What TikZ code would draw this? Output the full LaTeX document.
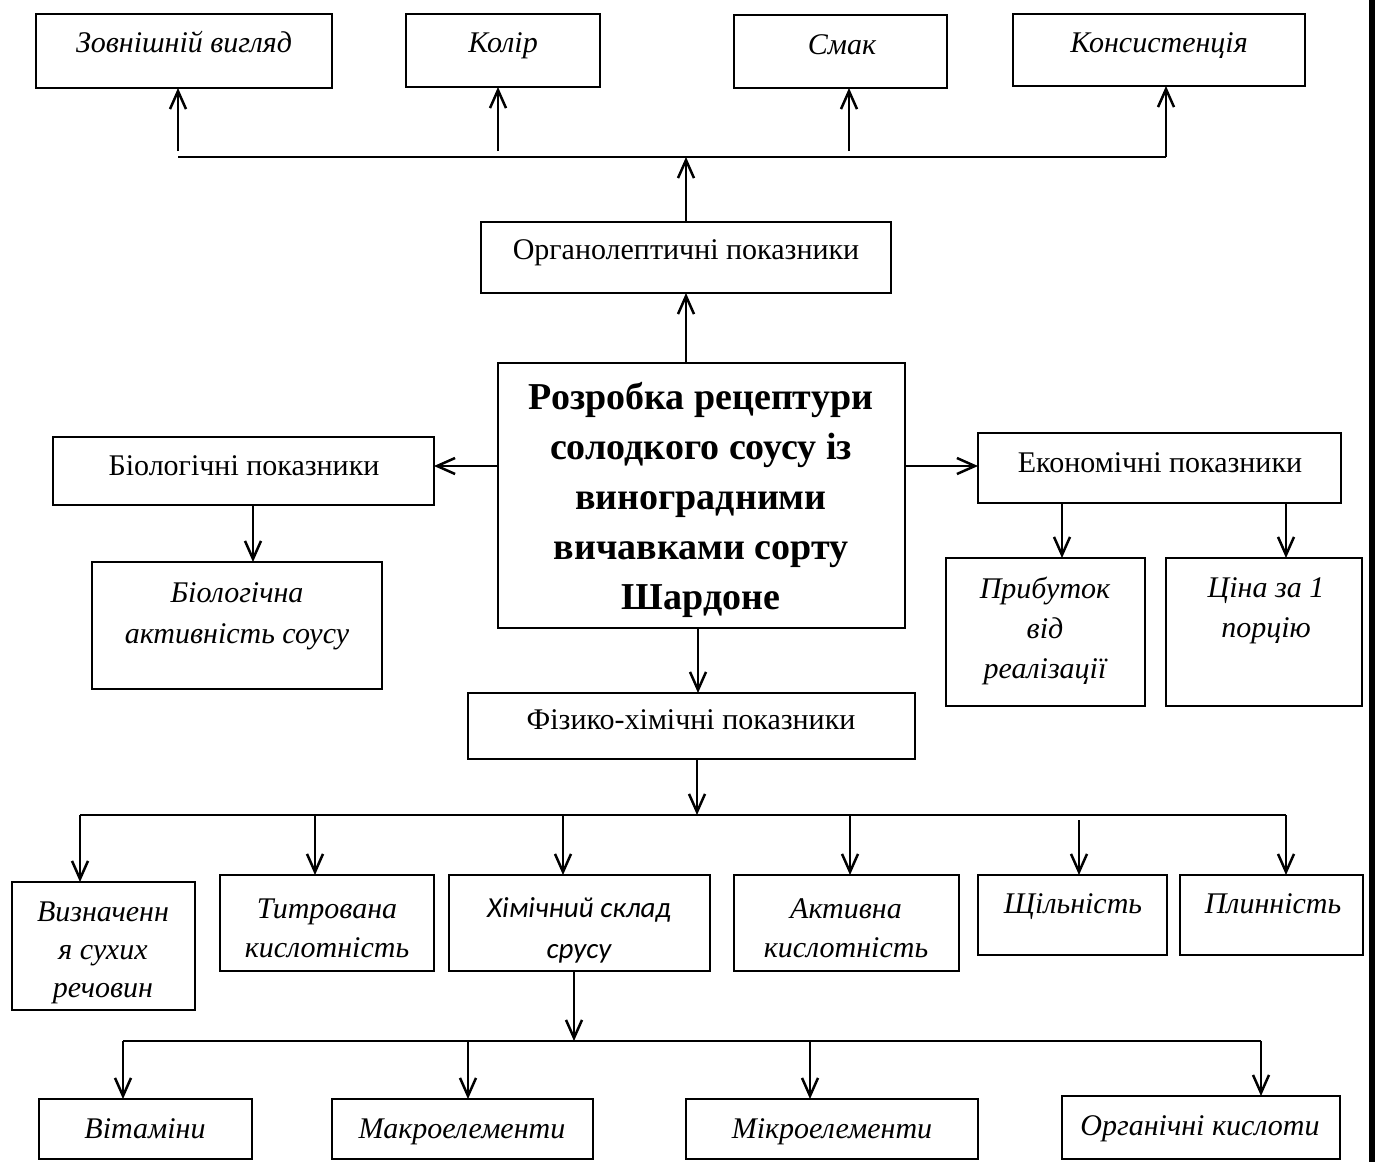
\documentclass[tikz,border=0pt]{standalone}
\usepackage{fontspec}
\setmainfont{Liberation Serif}
\newfontfamily\calib{Carlito}
\usetikzlibrary{arrows.meta,calc}
\newcommand\mybox[5]{\node[bx, minimum width={(#4)-(#2)}, minimum height={(#5)-(#3)}] (#1) at ({((#2)+(#4))/2},{((#3)+(#5))/2}) {};}
\begin{document}
\begin{tikzpicture}[x=1pt,y=-1pt,
  bx/.style={draw, line width=2.5pt, rectangle, inner sep=0pt, outer sep=0pt},
  ln/.style={line width=2.5pt},
  arr/.style={line width=2.5pt, -{Straight Barb[length=18pt,width=16pt]}},
  rtx/.style={font=\fontsize{30}{#1}\selectfont, align=center, inner sep=0pt},
  rtx/.default=36,
  itx/.style={font=\fontsize{30}{#1}\selectfont\itshape, align=center, inner sep=0pt},
  itx/.default=36]
\useasboundingbox (0,0) rectangle (1375,1162);
\fill[white] (0,0) rectangle (1375,1162);

% boxes
\mybox{zv}{36}{14}{332}{88}
\mybox{kol}{406}{14}{600}{87}
\mybox{smak}{734}{15}{947}{88}
\mybox{kons}{1013}{14}{1305}{86}
\mybox{org}{481}{222}{891}{293}
\mybox{main}{498}{363}{905}{628}
\mybox{biol}{53}{437}{434}{505}
\mybox{bioa}{92}{562}{382}{689}
\mybox{econ}{978}{433}{1341}{503}
\mybox{prib}{946}{558}{1145}{706}
\mybox{cina}{1166}{558}{1362}{706}
\mybox{fiz}{468}{693}{915}{759}
\mybox{vyz}{12}{882}{195}{1010}
\mybox{tytr}{220}{875}{434}{971}
\mybox{khim}{449}{875}{710}{971}
\mybox{aktyv}{734}{875}{959}{971}
\mybox{shch}{978}{875}{1167}{955}
\mybox{plyn}{1180}{875}{1363}{955}
\mybox{vit}{39}{1099}{252}{1159}
\mybox{makro}{332}{1099}{593}{1159}
\mybox{mikro}{686}{1099}{978}{1159}
\mybox{orgk}{1062}{1096}{1340}{1159}

% texts
\node[itx, anchor=mid] (tzv) at (184,50) {Зовнішній вигляд};
\node[itx, anchor=mid] (tkol) at (503,50) {Колір};
\node[itx, anchor=mid] (tsmak) at (842,52) {Смак};
\node[itx, anchor=mid] (tkons) at (1159,50) {Консистенція};
\node[rtx, anchor=mid] (torg) at (686,257) {Органолептичні показники};
\node[font=\fontsize{38}{50}\selectfont\bfseries, align=center, inner sep=0pt] (tmain) at (701,500)
  {Розробка рецептури\\солодкого соусу із\\виноградними\\вичавками сорту\\Шардоне};
\node[rtx, anchor=mid] (tbiol) at (244,473) {Біологічні показники};
\node[itx=41] (tbioa) at (237,616) {Біологічна\\активність соусу};
\node[rtx, anchor=mid] (tecon) at (1160,470) {Економічні показники};
\node[itx=40] (tprib) at (1045,631) {Прибуток\\від\\реалізації};
\node[itx=40] (tcina) at (1266,611) {Ціна за 1\\порцію};
\node[rtx, anchor=mid] (tfiz) at (691,727) {Фізико-хімічні показники};
\node[itx=38] (tvyz) at (103,953) {Визначенн\\я сухих\\речовин};
\node[itx=39] (ttytr) at (327,928) {Титрована\\кислотність};
\node[font=\fontsize{29}{41}\selectfont\calib\itshape, align=center, inner sep=0pt] (tkhim) at (579,930) {Хімічний склад\\срусу};
\node[itx=39] (taktyv) at (846,928) {Активна\\кислотність};
\node[itx, anchor=mid] (tshch) at (1073,911) {Щільність};
\node[itx, anchor=mid] (tplyn) at (1273,911) {Плинність};
\node[itx, anchor=mid] (tvit) at (145,1136) {Вітаміни};
\node[itx, anchor=mid] (tmakro) at (462,1136) {Макроелементи};
\node[itx, anchor=mid] (tmikro) at (832,1136) {Мікроелементи};
\node[itx, anchor=mid] (torgk) at (1200,1133) {Органічні кислоти};

% top connectors
\coordinate (hL) at (178,157);
\coordinate (hR) at (1166,157);
\draw[ln] (hL) -- (hR);
\draw[arr] (hR) -- (hR |- kons.south);
\draw[arr] (org.north) -- (org.north |- hL);
\coordinate (a1) at (178,151);
\coordinate (a2) at (498,151);
\coordinate (a3) at (849,151);
\draw[arr] (a1) -- (a1 |- zv.south);
\draw[arr] (a2) -- (a2 |- kol.south);
\draw[arr] (a3) -- (a3 |- smak.south);
\draw[arr] (org.south |- main.north) -- (org.south);

% left / right
\coordinate (ml) at (498,466);
\coordinate (mr) at (905,466);
\draw[arr] (ml) -- (ml -| biol.east);
\draw[arr] (mr) -- (mr -| econ.west);
\coordinate (bd) at (253,505);
\draw[arr] (bd) -- (bd |- bioa.north);
\coordinate (e1) at (1062,503);
\coordinate (e2) at (1286,503);
\draw[arr] (e1) -- (e1 |- prib.north);
\draw[arr] (e2) -- (e2 |- cina.north);

% main to physico-chemical
\coordinate (md) at (698,628);
\draw[arr] (md) -- (md |- fiz.north);
\coordinate (fd) at (697,759);
\coordinate (fL) at (80,815);
\coordinate (fR) at (1286,815);
\draw[arr] (fd) -- (fd |- fL);
\draw[ln] (fL) -- (fR);
\draw[arr] (fL) -- (fL |- vyz.north);
\coordinate (d2) at (315,815);
\coordinate (d3) at (563,815);
\coordinate (d4) at (850,815);
\coordinate (d5) at (1079,820);
\draw[arr] (d2) -- (d2 |- tytr.north);
\draw[arr] (d3) -- (d3 |- khim.north);
\draw[arr] (d4) -- (d4 |- aktyv.north);
\draw[arr] (d5) -- (d5 |- shch.north);
\draw[arr] (fR) -- (fR |- plyn.north);

% chemical composition
\coordinate (kd) at (574,971);
\coordinate (cL) at (123,1041);
\coordinate (cR) at (1261,1041);
\draw[arr] (kd) -- (kd |- cL);
\draw[ln] (cL) -- (cR);
\draw[arr] (cL) -- (cL |- vit.north);
\coordinate (c2) at (468,1041);
\coordinate (c3) at (810,1041);
\draw[arr] (c2) -- (c2 |- makro.north);
\draw[arr] (c3) -- (c3 |- mikro.north);
\draw[arr] (cR) -- (cR |- orgk.north);

% right edge bar
\fill[black] (1369,0) rectangle (1375,1162);
\end{tikzpicture}
\end{document}
